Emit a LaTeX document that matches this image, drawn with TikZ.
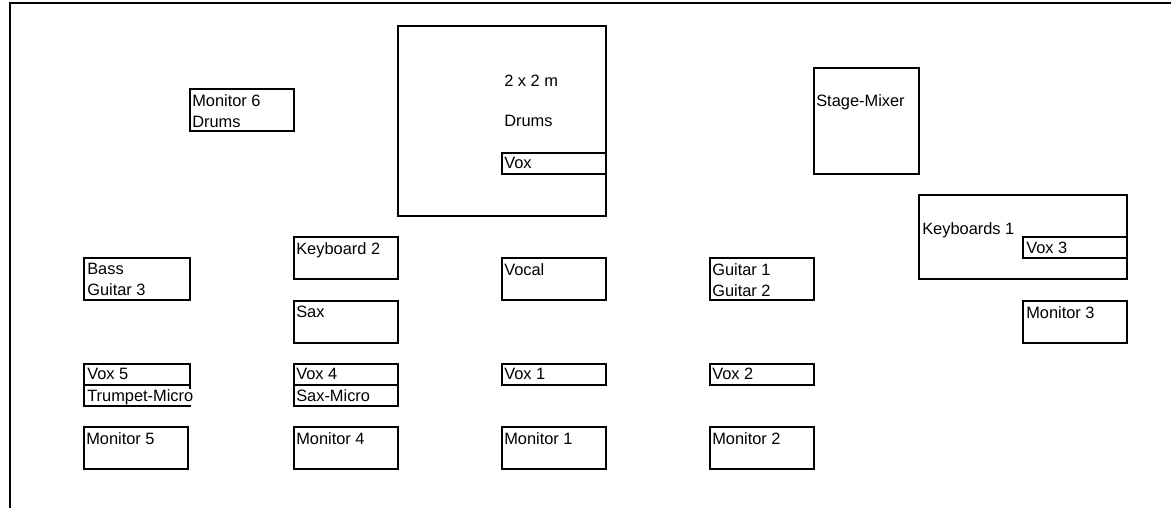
\documentclass[tikz,border=0pt]{standalone}
\usepackage{fontspec}
\setmainfont{Liberation Sans}
\usepackage{tikz}
\usetikzlibrary{positioning}
\tikzstyle{box}=[draw,line width=1.5pt,minimum width=78pt,minimum height=31.5pt,inner sep=0pt,anchor=north west]
\tikzstyle{slim}=[box,minimum height=15.75pt]
\tikzstyle{txt}=[inner sep=0pt,anchor=north west,align=left,font=\fontsize{12.3}{15.75}\selectfont]

\begin{document}
\begin{tikzpicture}[x=0.75pt,y=-0.75pt]
\useasboundingbox (0,0) rectangle (1171,508);
\draw[line width=1.5pt] (10,508) -- (10,3) -- (1171,3);
% drum riser
\node [box,minimum width=156pt,minimum height=142.5pt] (drums) at (397,25) {};
\node [txt,below right=37.5pt and 80.25pt of drums.north west] {2 x 2 m};
\node [txt,below right=67.5pt and 80.25pt of drums.north west] {Drums};
\node [slim] (voxd) at (501,152) {};
\node [txt,below right=3.75pt and 2.25pt of voxd.north west] {Vox};
\node [box] (mon6) at (189,88) {};
\node [txt,below right=4.5pt and 2.25pt of mon6.north west] {Monitor 6\\Drums};
% right side
\node [box,minimum width=78.75pt,minimum height=79.5pt] (mixer) at (813,67) {};
\node [txt,below right=20.25pt and 2.25pt of mixer.north west] {Stage-Mixer};
\node [box,minimum width=156pt,minimum height=63pt] (keys1) at (918,194) {};
\node [txt,below right=21pt and 3pt of keys1.north west] {Keyboards 1};
\node [slim] (vox3) at (1022,236) {};
\node [txt,below right=4.5pt and 3pt of vox3.north west] {Vox 3};
\node [box] (mon3) at (1022,300) {};
\node [txt,below right=4.5pt and 3pt of mon3.north west] {Monitor 3};
% instruments
\node [box,minimum width=79.5pt] (bass) at (83,257) {};
\node [txt,below right=4.5pt and 3pt of bass.north west] {Bass\\Guitar 3};
\node [box] (keys2) at (293,236) {};
\node [txt,below right=4.5pt and 2.25pt of keys2.north west] {Keyboard 2};
\node [box] (sax) at (293,300) {};
\node [txt,below right=4.5pt and 2.25pt of sax.north west] {Sax};
\node [box] (vocal) at (501,257) {};
\node [txt,below right=4.5pt and 2.25pt of vocal.north west] {Vocal};
\node [box] (guitar) at (709,257) {};
\node [txt,below right=4.5pt and 2.25pt of guitar.north west] {Guitar 1\\Guitar 2};
% micros
\node [slim,minimum width=79.5pt] (vox5) at (83,363) {};
\node [txt,below right=3.75pt and 3pt of vox5.north west] {Vox 5};
\node [slim,minimum width=79.5pt] (trumpet) at (83,384) {};
\node [txt,fill=white,below right=3.75pt and 3pt of trumpet.north west] {Trumpet-Micro};
\node [slim] (vox4) at (293,363) {};
\node [txt,below right=3.75pt and 2.25pt of vox4.north west] {Vox 4};
\node [slim] (saxmic) at (293,384) {};
\node [txt,below right=3.75pt and 2.25pt of saxmic.north west] {Sax-Micro};
\node [slim] (vox1) at (501,363) {};
\node [txt,below right=3.75pt and 2.25pt of vox1.north west] {Vox 1};
\node [slim] (vox2) at (709,363) {};
\node [txt,below right=3.75pt and 2.25pt of vox2.north west] {Vox 2};
% monitors
\foreach \x/\n in {83/5,293/4,501/1,709/2}{
  \node [box] (mon\n) at (\x,426) {};
  \node [txt,below right=4.5pt and 2.25pt of mon\n.north west] {Monitor \n};
}
\end{tikzpicture}
\end{document}
